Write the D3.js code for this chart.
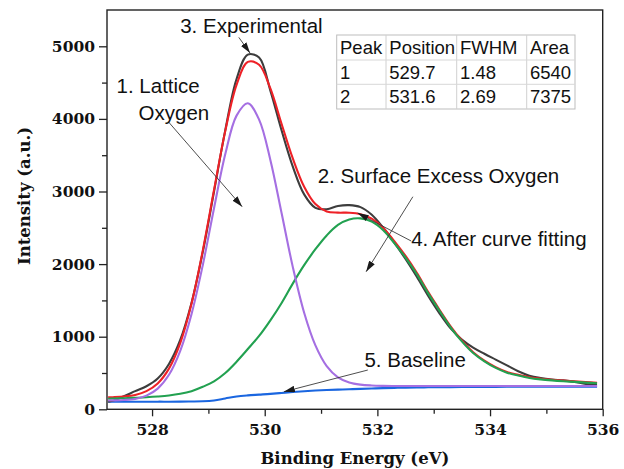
<!DOCTYPE html>
<html>
<head>
<meta charset="utf-8">
<script src="https://cdn.jsdelivr.net/npm/d3@7"></script>
<style>
  html, body { margin: 0; padding: 0; background: #fff; }
  svg { display: block; }
</style>
</head>
<body>
<svg id="chart" width="624" height="469"></svg>
<script>
// O 1s XPS spectrum: binding energy (eV) and intensity (a.u.)
const energy = [527.22, 527.3, 527.5, 527.7, 527.9, 528.1, 528.3, 528.5, 528.7, 528.9,
  529.1, 529.3, 529.5, 529.7, 529.9, 530.1, 530.3, 530.5, 530.7, 530.9,
  531.1, 531.3, 531.5, 531.7, 531.9, 532.1, 532.3, 532.5, 532.7, 532.9,
  533.1, 533.3, 533.5, 533.7, 533.9, 534.1, 534.3, 534.5, 534.7, 534.9,
  535.1, 535.3, 535.5, 535.7, 535.9];

const experimental = [105, 118, 180, 250, 318, 425, 625, 955, 1465, 2165,
  3000, 3845, 4550, 4885, 4845, 4390, 3840, 3340, 2960, 2775,
  2755, 2800, 2812, 2785, 2680, 2505, 2295, 2070, 1825, 1565,
  1325, 1115, 960, 850, 765, 685, 605, 525, 462, 430,
  410, 398, 378, 348, 342];

const fitted = [164, 167, 177, 198, 250, 356, 560, 912, 1453, 2185,
  3020, 3835, 4470, 4785, 4745, 4420, 3930, 3452, 3066, 2827,
  2725, 2709, 2708, 2688, 2626, 2502, 2316, 2112, 1879, 1617,
  1375, 1144, 948, 787, 671, 581, 515, 475, 441, 421,
  407, 396, 386, 376, 366];

const latticeOxygen = [122, 123, 128, 143, 188, 285, 475, 805, 1310, 1985,
  2770, 3515, 4045, 4215, 3990, 3435, 2700, 1955, 1330, 880,
  595, 440, 370, 340, 328, 323, 321, 320, 320, 320,
  320, 320, 320, 320, 320, 320, 320, 320, 320, 320,
  320, 320, 320, 320, 320];

const surfaceOxygen = [146, 148, 153, 159, 166, 176, 190, 213, 250, 310,
  385, 500, 655, 830, 1010, 1225, 1465, 1735, 1985, 2205,
  2395, 2540, 2615, 2630, 2585, 2470, 2290, 2090, 1860, 1600,
  1360, 1130, 935, 775, 660, 570, 505, 465, 432, 412,
  398, 387, 378, 368, 358];

const baseline = [104, 104, 104, 104, 104, 105, 105, 106, 107, 110,
  122, 150, 177, 192, 202, 212, 225, 238, 249, 258,
  265, 271, 277, 282, 287, 291, 295, 298, 301, 303,
  305, 306, 307, 308, 309, 309, 310, 310, 311, 311,
  311, 311, 312, 312, 312];

const xMajorTicks = [528, 530, 532, 534, 536];
const xMinorTicks = [529, 531, 533, 535];
const yMajorTicks = [0, 1000, 2000, 3000, 4000, 5000];
const yMinorTicks = [500, 1500, 2500, 3500, 4500];

const tableHeader = ["Peak", "Position", "FWHM", "Area"];
const tableRows = [
  ["1", "529.7", "1.48", "6540"],
  ["2", "531.6", "2.69", "7375"]
];

const annotationLabels = ["3. Experimental", "1. Lattice", "Oxygen",
  "2. Surface Excess Oxygen", "4. After curve fitting", "5. Baseline"];

// ---- layout ----
const svg = d3.select("#chart");
const plot = { left: 107, right: 602.7, top: 10, bottom: 409.3 };

const x = d3.scaleLinear().domain([527.2, 536]).range([plot.left, plot.right]);
const y = d3.scaleLinear().domain([0, 5500]).range([plot.bottom, plot.top]);

const serif = "'DejaVu Serif', serif";
const sans = "'Liberation Sans', Arial, sans-serif";

// ---- axes ----
function styleAxis(g) {
  g.select(".domain").remove();
  g.selectAll(".tick line").attr("stroke", "#222").attr("stroke-width", 1.3);
  g.selectAll(".tick text")
    .attr("fill", "#111")
    .style("font-family", serif)
    .style("font-weight", "bold")
    .style("font-size", "15.5px");
}

svg.append("g")
  .attr("transform", `translate(0,${plot.bottom})`)
  .call(d3.axisBottom(x).tickValues(xMajorTicks).tickFormat(d3.format("d"))
    .tickSize(7).tickPadding(8).tickSizeOuter(0))
  .call(styleAxis);

svg.append("g")
  .attr("transform", `translate(0,${plot.bottom})`)
  .call(d3.axisBottom(x).tickValues(xMinorTicks).tickFormat("")
    .tickSize(4.5).tickSizeOuter(0))
  .call(styleAxis);

svg.append("g")
  .attr("transform", `translate(${plot.left},0)`)
  .call(d3.axisLeft(y).tickValues(yMajorTicks).tickFormat(d3.format("d"))
    .tickSize(8).tickPadding(4).tickSizeOuter(0))
  .call(styleAxis);

svg.append("g")
  .attr("transform", `translate(${plot.left},0)`)
  .call(d3.axisLeft(y).tickValues(yMinorTicks).tickFormat("")
    .tickSize(5).tickSizeOuter(0))
  .call(styleAxis);

// axis titles
svg.append("text")
  .attr("x", (plot.left + plot.right) / 2)
  .attr("y", 464)
  .attr("text-anchor", "middle")
  .style("font-family", serif).style("font-weight", "bold").style("font-size", "16.5px")
  .attr("fill", "#111")
  .text("Binding Energy (eV)");

svg.append("text")
  .attr("transform", `translate(30,196) rotate(-90)`)
  .attr("text-anchor", "middle")
  .style("font-family", serif).style("font-weight", "bold").style("font-size", "16.5px")
  .attr("fill", "#111")
  .text("Intensity (a.u.)");

// ---- curves ----
svg.append("clipPath").attr("id", "plot-clip")
  .append("rect")
  .attr("x", plot.left).attr("y", plot.top)
  .attr("width", plot.right - plot.left).attr("height", plot.bottom - plot.top);

const line = d3.line()
  .x((d, i) => x(energy[i]))
  .y(d => y(d))
  .curve(d3.curveCatmullRom.alpha(0.5));

const series = [
  { values: baseline, color: "#1a66e0" },
  { values: experimental, color: "#3d3d3d" },
  { values: fitted, color: "#ee2127" },
  { values: surfaceOxygen, color: "#22a150" },
  { values: latticeOxygen, color: "#a56fe2" }
];

const curves = svg.append("g").attr("clip-path", "url(#plot-clip)");
curves.selectAll("path")
  .data(series)
  .join("path")
  .attr("d", d => line(d.values))
  .attr("fill", "none")
  .attr("stroke", d => d.color)
  .attr("stroke-width", 2.1)
  .attr("stroke-linejoin", "round");

// ---- frame ----
svg.append("rect")
  .attr("x", plot.left).attr("y", plot.top)
  .attr("width", plot.right - plot.left).attr("height", plot.bottom - plot.top)
  .attr("fill", "none").attr("stroke", "#222").attr("stroke-width", 1.4);

// ---- annotations with arrows ----
svg.append("defs").append("marker")
  .attr("id", "arrowhead")
  .attr("viewBox", "0 0 10 6")
  .attr("refX", 10).attr("refY", 3)
  .attr("markerUnits", "userSpaceOnUse")
  .attr("markerWidth", 11).attr("markerHeight", 6.6)
  .attr("orient", "auto")
  .append("path")
  .attr("d", "M0,0 L10,3 L0,6 Z")
  .attr("fill", "#1a1a1a");

// arrow start / tip in data units (eV, counts)
const arrows = [
  { from: [529.54, 5123], to: [529.74, 4906] },
  { from: [528.29, 3960], to: [529.60, 2790] },
  { from: [532.63, 2928], to: [531.80, 1895] },
  { from: [532.60, 2318], to: [531.65, 2703] },
  { from: [531.83, 541], to: [530.34, 242] }
];

svg.append("g").selectAll("line")
  .data(arrows)
  .join("line")
  .attr("x1", d => x(d.from[0])).attr("y1", d => y(d.from[1]))
  .attr("x2", d => x(d.to[0])).attr("y2", d => y(d.to[1]))
  .attr("stroke", "#3a3a3a").attr("stroke-width", 0.9)
  .attr("marker-end", "url(#arrowhead)");

// label anchors in data units (left edge, baseline)
const labelAnchors = [
  [528.50, 5183], [527.37, 4360], [527.76, 3990],
  [530.94, 3112], [532.60, 2256], [531.77, 581]
];

svg.append("g").selectAll("text")
  .data(annotationLabels)
  .join("text")
  .attr("x", (d, i) => x(labelAnchors[i][0]))
  .attr("y", (d, i) => y(labelAnchors[i][1]))
  .attr("fill", "#111")
  .style("font-family", sans)
  .style("font-size", "20.5px")
  .text(d => d);

// ---- parameter table ----
const colEdges = [336.7, 386, 456.7, 526.7, 575];
const rowEdges = [35, 60, 84.3, 109];
const table = svg.append("g");

table.append("rect")
  .attr("x", colEdges[0]).attr("y", rowEdges[0])
  .attr("width", colEdges[4] - colEdges[0]).attr("height", rowEdges[3] - rowEdges[0])
  .attr("fill", "#fff").attr("stroke", "#bdbdbd").attr("stroke-width", 1);

table.selectAll("line.col")
  .data(colEdges.slice(1, -1))
  .join("line").attr("class", "col")
  .attr("x1", d => d).attr("x2", d => d)
  .attr("y1", rowEdges[0]).attr("y2", rowEdges[3])
  .attr("stroke", "#d0d0d0").attr("stroke-width", 1);

table.selectAll("line.row")
  .data(rowEdges.slice(1, -1))
  .join("line").attr("class", "row")
  .attr("x1", colEdges[0]).attr("x2", colEdges[4])
  .attr("y1", d => d).attr("y2", d => d)
  .attr("stroke", "#d8d8d8").attr("stroke-width", 1);

const allRows = [tableHeader, ...tableRows];
allRows.forEach((row, r) => {
  table.selectAll(null)
    .data(row)
    .join("text")
    .attr("x", (d, c) => colEdges[c] + 3.3)
    .attr("y", rowEdges[r] + 18.5)
    .attr("fill", "#111")
    .style("font-family", sans)
    .style("font-size", "18.5px")
    .text(d => d);
});
</script>
</body>
</html>
